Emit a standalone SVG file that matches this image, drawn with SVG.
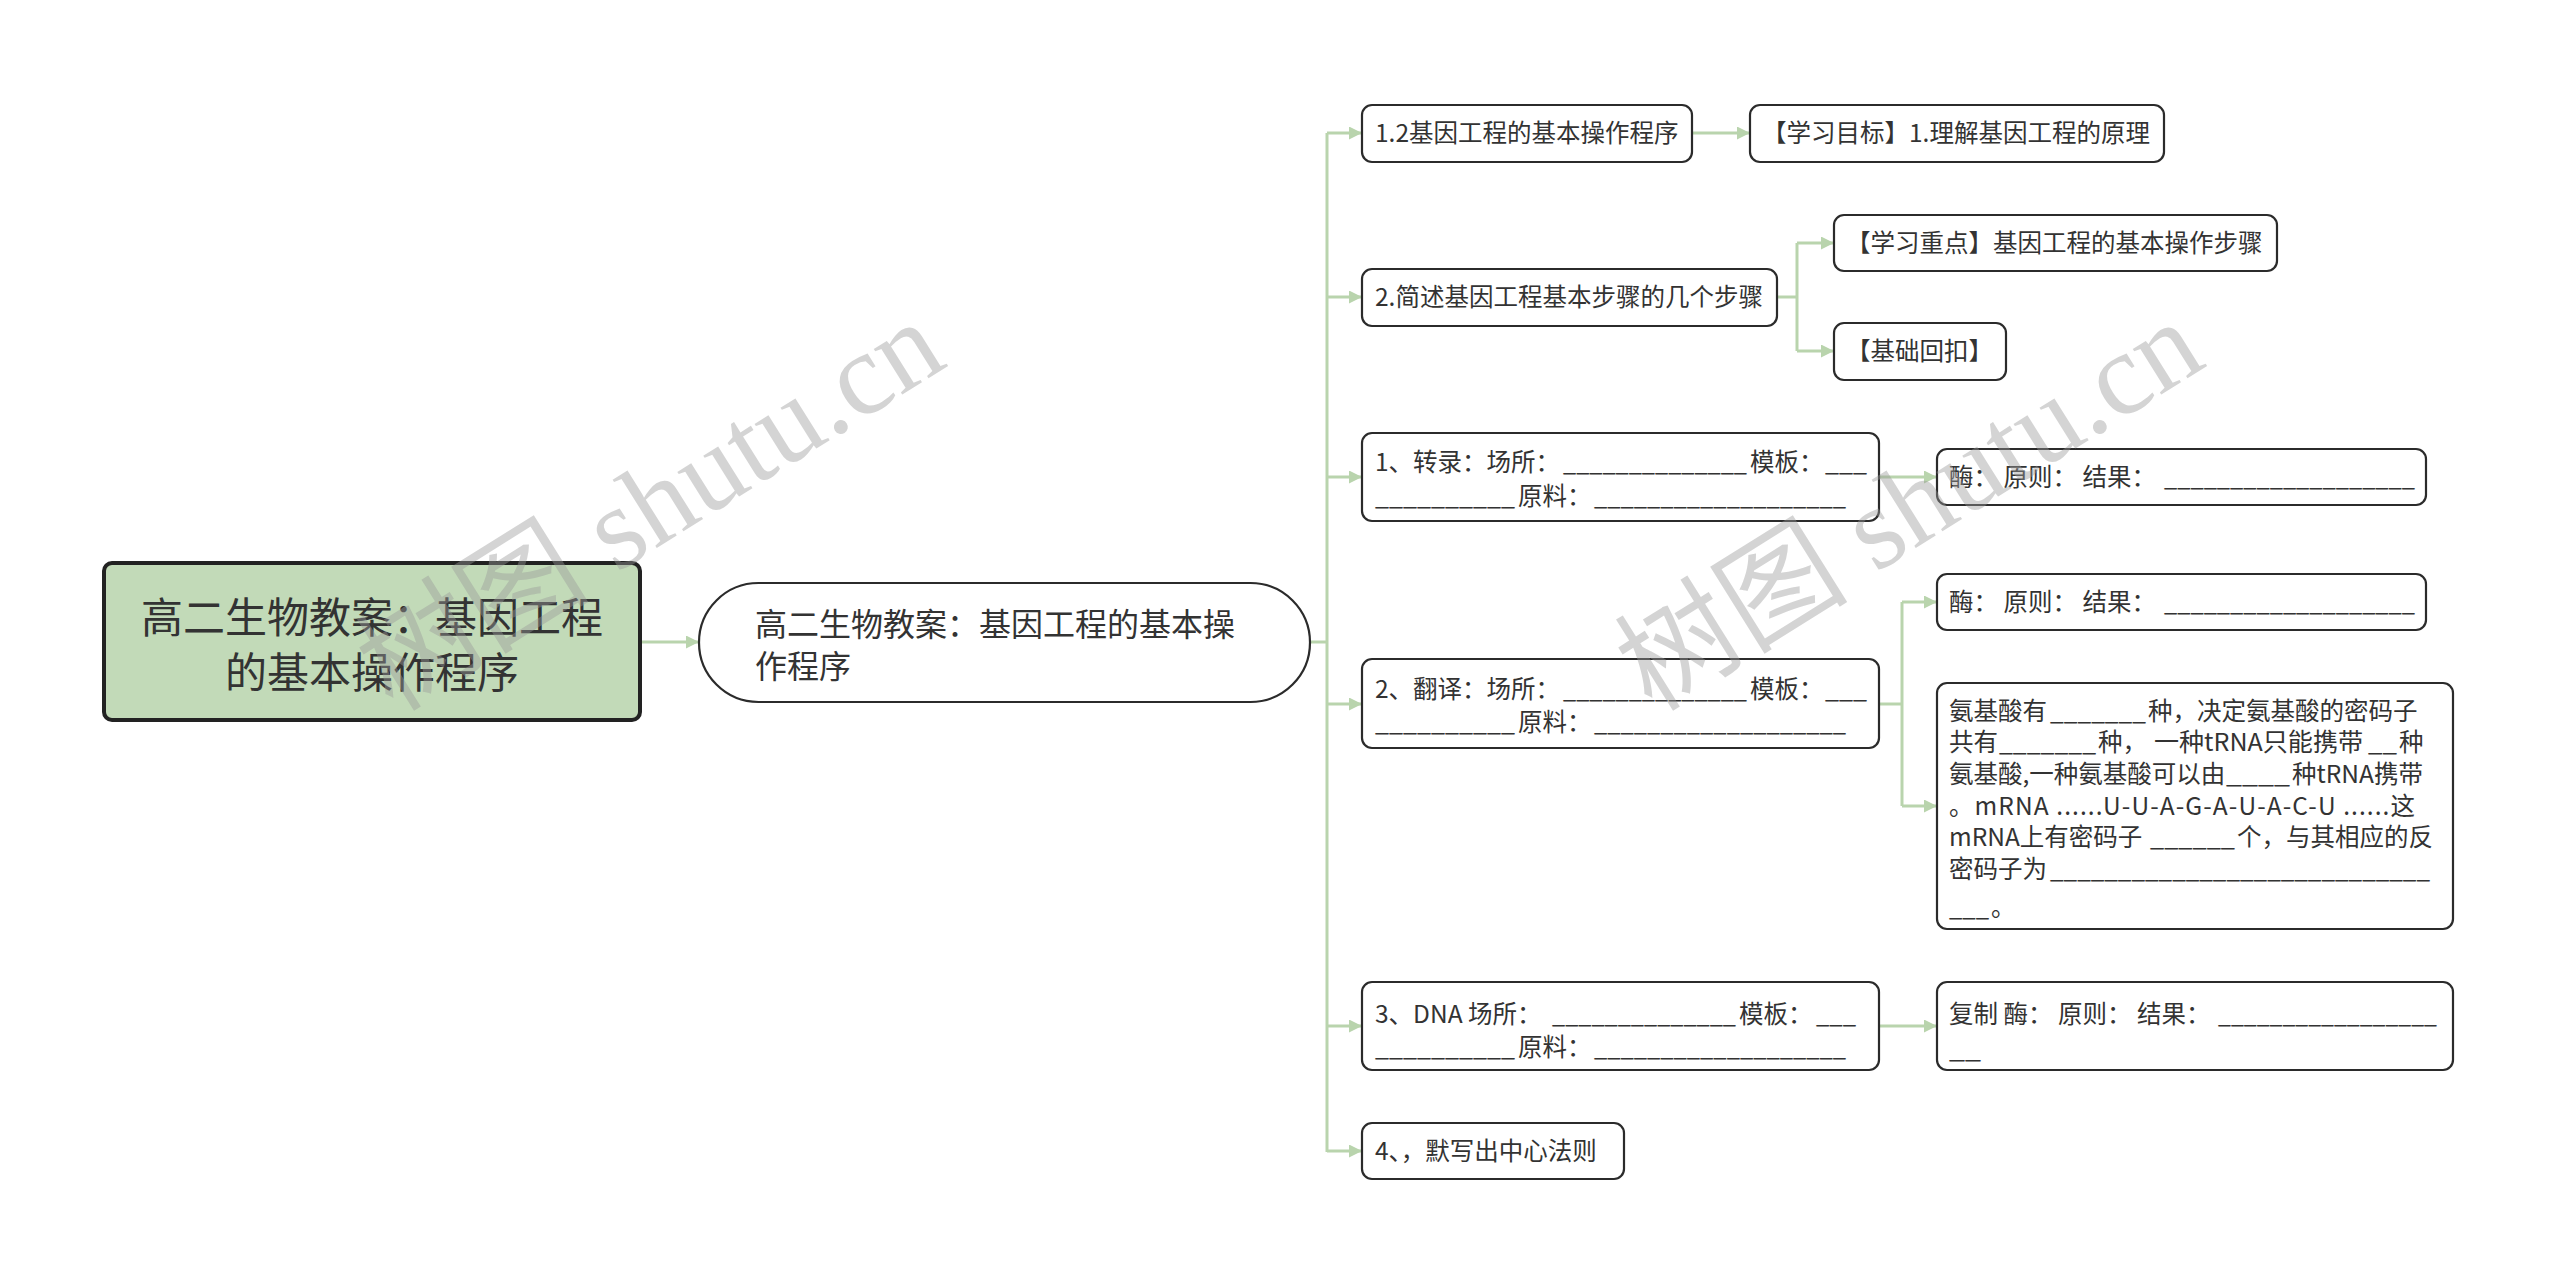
<svg xmlns="http://www.w3.org/2000/svg" width="2560" height="1285" viewBox="0 0 2560 1285">
<style>
.t{font-family:"Noto Sans CJK SC","Microsoft YaHei",sans-serif;font-size:24.5px;fill:#333;dominant-baseline:central}
.box{fill:#fff;stroke:#2b2b2b;stroke-width:2.2}
.con{fill:none;stroke:#b9d4ad;stroke-width:3}
.arr{fill:none;stroke:#b9d4ad;stroke-width:3;marker-end:url(#ah)}
.wm{font-family:"Liberation Serif","Noto Sans CJK SC",serif;font-size:117px;fill:#9a9a9a;opacity:0.42}
</style>
<defs>
<marker id="ah" markerUnits="userSpaceOnUse" markerWidth="13" markerHeight="13" refX="12" refY="6.5" orient="auto">
<path d="M0,0 L13,6.5 L0,13 z" fill="#b9d4ad"/>
</marker>
</defs>
<rect width="2560" height="1285" fill="#fff"/>
<g id="connectors">
<line class="arr" x1="640" y1="642" x2="698" y2="642"/>
<line class="con" x1="1310" y1="642" x2="1327" y2="642"/>
<line class="con" x1="1327" y1="133" x2="1327" y2="1152"/>
<line class="arr" x1="1327" y1="133" x2="1361" y2="133"/>
<line class="arr" x1="1327" y1="297" x2="1361" y2="297"/>
<line class="arr" x1="1327" y1="477" x2="1361" y2="477"/>
<line class="arr" x1="1327" y1="704" x2="1361" y2="704"/>
<line class="arr" x1="1327" y1="1026" x2="1361" y2="1026"/>
<line class="arr" x1="1327" y1="1151" x2="1361" y2="1151"/>
<line class="arr" x1="1692" y1="133" x2="1749" y2="133"/>
<line class="con" x1="1777" y1="297" x2="1797" y2="297"/>
<line class="con" x1="1797" y1="243" x2="1797" y2="351"/>
<line class="arr" x1="1797" y1="243" x2="1833" y2="243"/>
<line class="arr" x1="1797" y1="351" x2="1833" y2="351"/>
<line class="arr" x1="1879" y1="477" x2="1936" y2="477"/>
<line class="con" x1="1879" y1="704" x2="1902" y2="704"/>
<line class="con" x1="1902" y1="602" x2="1902" y2="806"/>
<line class="arr" x1="1902" y1="602" x2="1936" y2="602"/>
<line class="arr" x1="1902" y1="806" x2="1936" y2="806"/>
<line class="arr" x1="1879" y1="1026" x2="1936" y2="1026"/>
</g>
<g id="root">
<rect x="104" y="563" width="536" height="157" rx="8" fill="#c2dab8" stroke="#222" stroke-width="4"/>
<text class="t" style="font-size:42px" x="372" y="614" text-anchor="middle">高二生物教案：基因工程</text>
<text class="t" style="font-size:42px" x="372" y="669" text-anchor="middle">的基本操作程序</text>
</g>
<g id="n0">
<rect class="box" x="699" y="583" width="611" height="119" rx="59.5" stroke-width="3"/>
<text class="t" style="font-size:32px" x="755" y="622">高二生物教案：基因工程的基本操</text>
<text class="t" style="font-size:32px" x="755" y="664">作程序</text>
</g>
<g id="n1">
<rect class="box" x="1362" y="105" width="330" height="57" rx="10"/>
<text class="t" x="1375" y="131">1.2基因工程的基本操作程序</text>
</g>
<g id="n2">
<rect class="box" x="1750" y="105" width="414" height="57" rx="10"/>
<text class="t" x="1762" y="131">【学习目标】1.理解基因工程的原理</text>
</g>
<g id="n3">
<rect class="box" x="1362" y="269" width="415" height="57" rx="10"/>
<text class="t" x="1375" y="295">2.简述基因工程基本步骤的几个步骤</text>
</g>
<g id="n4">
<rect class="box" x="1834" y="215" width="443" height="56" rx="10"/>
<text class="t" x="1846" y="241">【学习重点】基因工程的基本操作步骤</text>
</g>
<g id="n5">
<rect class="box" x="1834" y="323" width="172" height="57" rx="10"/>
<text class="t" x="1846" y="349">【基础回扣】</text>
</g>
<g id="n6">
<rect class="box" x="1362" y="433" width="517" height="88" rx="10"/>
<text class="t" y="460"><tspan x="1375">1、转录：场所：</tspan><tspan x="1563" textLength="184" lengthAdjust="spacingAndGlyphs">______________</tspan><tspan x="1750">模板：</tspan><tspan x="1825" textLength="42" lengthAdjust="spacingAndGlyphs">___</tspan></text>
<text class="t" y="494"><tspan x="1375" textLength="140" lengthAdjust="spacingAndGlyphs">__________</tspan><tspan x="1518">原料：</tspan><tspan x="1594" textLength="252" lengthAdjust="spacingAndGlyphs">___________________</tspan></text>
</g>
<g id="n7">
<rect class="box" x="1937" y="449" width="489" height="56" rx="10"/>
<text class="t" y="475"><tspan x="1949">酶： 原则： 结果：</tspan><tspan x="2164" textLength="251" lengthAdjust="spacingAndGlyphs">___________________</tspan></text>
</g>
<g id="n8">
<rect class="box" x="1362" y="659" width="517" height="89" rx="10"/>
<text class="t" y="687"><tspan x="1375">2、翻译：场所：</tspan><tspan x="1563" textLength="184" lengthAdjust="spacingAndGlyphs">______________</tspan><tspan x="1750">模板：</tspan><tspan x="1825" textLength="42" lengthAdjust="spacingAndGlyphs">___</tspan></text>
<text class="t" y="720"><tspan x="1375" textLength="140" lengthAdjust="spacingAndGlyphs">__________</tspan><tspan x="1518">原料：</tspan><tspan x="1594" textLength="252" lengthAdjust="spacingAndGlyphs">___________________</tspan></text>
</g>
<g id="n9">
<rect class="box" x="1937" y="574" width="489" height="56" rx="10"/>
<text class="t" y="600"><tspan x="1949">酶： 原则： 结果：</tspan><tspan x="2164" textLength="251" lengthAdjust="spacingAndGlyphs">___________________</tspan></text>
</g>
<g id="n10">
<rect class="box" x="1937" y="683" width="516" height="246" rx="10"/>
<text class="t" y="709"><tspan x="1949">氨基酸有</tspan><tspan x="2050" textLength="96" lengthAdjust="spacingAndGlyphs">_______</tspan><tspan x="2148">种，决定氨基酸的密码子</tspan></text>
<text class="t" y="740"><tspan x="1949">共有</tspan><tspan x="1999" textLength="97" lengthAdjust="spacingAndGlyphs">_______</tspan><tspan x="2098">种，</tspan><tspan x="2154" textLength="209" lengthAdjust="spacingAndGlyphs">一种tRNA只能携带</tspan><tspan x="2368" textLength="29" lengthAdjust="spacingAndGlyphs">__</tspan><tspan x="2399">种</tspan></text>
<text class="t" y="772"><tspan x="1949">氨基酸,一种氨基酸可以由</tspan><tspan x="2226" textLength="64" lengthAdjust="spacingAndGlyphs">____</tspan><tspan x="2292">种tRNA携带</tspan></text>
<text class="t" y="804" x="1949" textLength="466" lengthAdjust="spacing">。mRNA ......U-U-A-G-A-U-A-C-U ......这</text>
<text class="t" y="835"><tspan x="1949">mRNA上有密码子</tspan><tspan x="2150" textLength="85" lengthAdjust="spacingAndGlyphs">______</tspan><tspan x="2237">个，与其相应的反</tspan></text>
<text class="t" y="867"><tspan x="1949">密码子为</tspan><tspan x="2050" textLength="380" lengthAdjust="spacingAndGlyphs">____________________________</tspan></text>
<text class="t" y="905"><tspan x="1949" textLength="40" lengthAdjust="spacingAndGlyphs">___</tspan><tspan x="1991">。</tspan></text>
</g>
<g id="n11">
<rect class="box" x="1362" y="982" width="517" height="88" rx="10"/>
<text class="t" y="1012"><tspan x="1375">3、DNA 场所：</tspan><tspan x="1552" textLength="184" lengthAdjust="spacingAndGlyphs">______________</tspan><tspan x="1739">模板：</tspan><tspan x="1816" textLength="40" lengthAdjust="spacingAndGlyphs">___</tspan></text>
<text class="t" y="1045"><tspan x="1375" textLength="140" lengthAdjust="spacingAndGlyphs">__________</tspan><tspan x="1518">原料：</tspan><tspan x="1594" textLength="252" lengthAdjust="spacingAndGlyphs">___________________</tspan></text>
</g>
<g id="n12">
<rect class="box" x="1937" y="982" width="516" height="88" rx="10"/>
<text class="t" y="1012"><tspan x="1949">复制 酶： 原则： 结果：</tspan><tspan x="2218" textLength="219" lengthAdjust="spacingAndGlyphs">_________________</tspan></text>
<text class="t" y="1047"><tspan x="1949" textLength="32" lengthAdjust="spacingAndGlyphs">__</tspan></text>
</g>
<g id="n13">
<rect class="box" x="1362" y="1123" width="262" height="56" rx="10"/>
<text class="t" x="1375" y="1149">4、，默写出中心法则</text>
</g>
<g id="watermark">
<text class="wm" transform="translate(393,713) rotate(-32)">树图 shutu.cn</text>
<text class="wm" transform="translate(1652,713) rotate(-32)">树图 shutu.cn</text>
</g>
</svg>
